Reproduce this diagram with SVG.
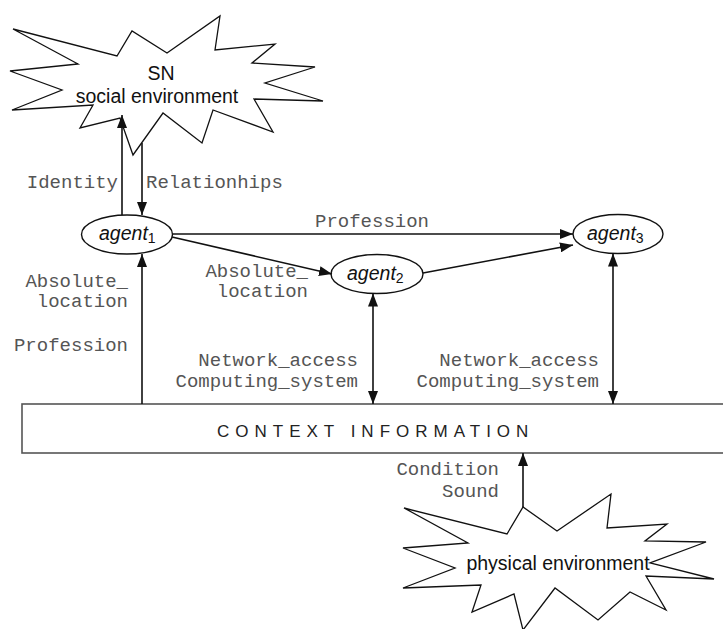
<svg xmlns="http://www.w3.org/2000/svg" width="723" height="629" viewBox="0 0 723 629">
<style>
.star{fill:#fff;stroke:#111;stroke-width:1.3;stroke-linejoin:miter}
.env{font-family:"Liberation Sans",Arial,sans-serif;font-size:19.5px;fill:#111;text-anchor:middle}
.ag{fill:#fff;stroke:#111;stroke-width:1.4}
.agt{font-family:"Liberation Sans",Arial,sans-serif;font-size:19.5px;font-style:italic;fill:#111}
.sub{font-size:14px;font-style:normal}
.lbl{font-family:"Liberation Mono","Courier New",monospace;font-size:19px;fill:#555}
.r{text-anchor:end}
.ln{stroke:#111;stroke-width:1.6;fill:none}
.box{fill:#fff;stroke:#555;stroke-width:1.6}
.ctx{font-family:"Liberation Sans",Arial,sans-serif;font-size:17px;letter-spacing:6px;fill:#222}
</style>
<defs>
<marker id="ah" markerWidth="14" markerHeight="10" refX="13" refY="5" orient="auto" markerUnits="userSpaceOnUse">
<path d="M0,0 L13,5 L0,10 Z" fill="#111"/>
</marker>
<marker id="as" markerWidth="14" markerHeight="10" refX="1" refY="5" orient="auto" markerUnits="userSpaceOnUse">
<path d="M14,0 L1,5 L14,10 Z" fill="#111"/>
</marker>
</defs>

<g id="context">
<rect class="box" x="22" y="404" width="710" height="49"/>
<text class="ctx" x="217" y="437">CONTEXT INFORMATION</text>
</g>

<g id="sn">
<polygon class="star" points="13,29 117,56 132,31 167,53 220,16 215,50 275,44 252,63 315,67 265,83 323,101 254,99 273,132 213,110 202,143 163,113 133,155 120,118 80,128 93,105 12,110 62,90 10,71 78,64"/>
<text class="env" x="161" y="80">SN</text>
<text class="env" x="157" y="103">social environment</text>
</g>

<g id="physical">
<polygon class="star" points="404,508 507,534 523,507 557,531 611,494 607,528 667,524 645,541 706,542 650,563 714,579 646,576 666,610 630,592 598,620 555,588 523,630 514,594 472,612 481,585 403,588 455,568 403,548 468,543"/>
<text class="env" x="558" y="570">physical environment</text>
</g>

<g id="agent1">
<ellipse class="ag" cx="127" cy="234.5" rx="45.5" ry="19.5"/>
<text class="agt" x="99" y="240">agent<tspan class="sub" dy="3">1</tspan></text>
</g>
<g id="agent2">
<ellipse class="ag" cx="377" cy="274" rx="46" ry="19.5"/>
<text class="agt" x="347" y="280">agent<tspan class="sub" dy="3">2</tspan></text>
</g>
<g id="agent3">
<ellipse class="ag" cx="618" cy="234" rx="45" ry="19.5"/>
<text class="agt" x="587" y="240">agent<tspan class="sub" dy="3">3</tspan></text>
</g>

<g id="connectors">
<line class="ln" x1="122" y1="215" x2="122" y2="115" marker-end="url(#ah)"/>
<line class="ln" x1="142" y1="143" x2="142" y2="215" marker-end="url(#ah)"/>
<line class="ln" x1="142" y1="404" x2="142" y2="254" marker-end="url(#ah)"/>
<line class="ln" x1="173" y1="234" x2="573" y2="234" marker-end="url(#ah)"/>
<line class="ln" x1="172" y1="237" x2="332" y2="274" marker-end="url(#ah)"/>
<line class="ln" x1="423" y1="273" x2="573" y2="245" marker-end="url(#ah)"/>
<line class="ln" x1="373" y1="293.5" x2="373" y2="404" marker-start="url(#as)" marker-end="url(#ah)"/>
<line class="ln" x1="613" y1="253.5" x2="613" y2="404" marker-start="url(#as)" marker-end="url(#ah)"/>
<line class="ln" x1="523" y1="507" x2="523" y2="453" marker-end="url(#ah)"/>
</g>

<g id="labels">
<text class="lbl r" x="118" y="188">Identity</text>
<text class="lbl" x="146" y="188">Relationhips</text>
<text class="lbl" x="315" y="227">Profession</text>
<text class="lbl r" x="308" y="277">Absolute_</text>
<text class="lbl r" x="308" y="297">location</text>
<text class="lbl r" x="128" y="287">Absolute_</text>
<text class="lbl r" x="128" y="307">location</text>
<text class="lbl r" x="128" y="351">Profession</text>
<text class="lbl r" x="358" y="366">Network_access</text>
<text class="lbl r" x="358" y="387">Computing_system</text>
<text class="lbl r" x="599" y="366">Network_access</text>
<text class="lbl r" x="599" y="387">Computing_system</text>
<text class="lbl r" x="499" y="475">Condition</text>
<text class="lbl r" x="499" y="497">Sound</text>
</g>
</svg>
